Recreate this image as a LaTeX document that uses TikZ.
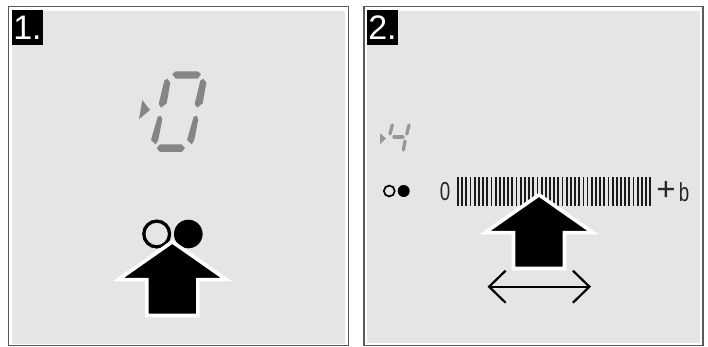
\documentclass[tikz,border=0pt]{standalone}
\usepackage{fontspec}
\setmainfont{Liberation Sans}
\usetikzlibrary{arrows.meta}
\definecolor{panelgrey}{RGB}{229,229,229}
\definecolor{framegrey}{RGB}{90,90,90}
\definecolor{seggrey}{RGB}{133,133,133}
\tikzset{
    frame/.style={draw=framegrey, line width=1.6pt, fill=white},
    panel/.style={fill=panelgrey},
    badge/.style={fill=black, text=white, inner sep=0pt, minimum width=31pt, minimum height=34.5pt, font=\fontsize{34pt}{34pt}\selectfont},
    seg/.style={fill=seggrey},
    thinseg/.style={draw=seggrey!85!white, line width=3.3pt, line cap=round},
    tick/.style={line width=1.8pt, black!90},
    scalelabel/.style={inner sep=0pt, xscale=0.72, font=\fontsize{26pt}{26pt}\selectfont, text=black!85},
    blockarrow/.pic={
        \draw[fill=black, draw=white, line width=3.6pt, miter limit=10]
            (0,-2.5) -- (54,35.3) -- (25.5,35.3) -- (25.5,71.2) -- (-25.5,71.2)
            -- (-25.5,35.3) -- (-54,35.3) -- cycle;
    }
}
\begin{document}
\begin{tikzpicture}[x=1pt, y=-1pt, >=Stealth]
    \useasboundingbox (0,0) rectangle (708,347);

    % Panels
    \draw[frame] (8.5,6.5) rectangle (348.5,345.5);
    \fill[panel] (12,11) rectangle (345,344);
    \draw[frame] (364,6.5) rectangle (703,345.5);
    \fill[panel] (367,11) rectangle (699.5,343);
    \node[badge] (badgeone) at (27.5,27.5) {1.};
    \node[badge] (badgetwo) at (382.5,27.5) {2.};

    % Digit 0
    \fill[seg] (139,119.3) -- (142.3,100) -- (150,110) -- cycle;
    \fill[seg] (172.3,74.3) -- (175.7,71.3) -- (197.7,71.3) -- (201,74.3) -- (197.7,78.7) -- (175.7,78.7) -- cycle;
    \foreach \dx in {0,36} {
        \fill[seg, xshift=\dx] (164.3,80.7) -- (167.3,78.7) -- (170.3,82.7) -- (166.7,103.3) -- (161,107.7) -- (158.7,104) -- cycle;
        \fill[seg, xshift=\dx] (157.7,116.7) -- (160.7,115.7) -- (162.3,119.3) -- (158.3,140) -- (155.7,144.3) -- (151,140) -- cycle;
    }
    \fill[seg] (156.7,148.3) -- (160,144.3) -- (181.7,144.3) -- (185,148.3) -- (181.7,152) -- (160,152) -- cycle;

    % Digit 4
    \fill[seggrey!85!white] (380,144.3) -- (380,133.3) -- (386,138.3) -- cycle;
    \draw[thinseg] (392.3,125) -- (390,134);
    \draw[thinseg] (409,125) -- (406.8,134);
    \draw[thinseg] (394,137) -- (403,137);
    \draw[thinseg] (405,141) -- (403.4,150);

    % Circles
    \node[circle, draw=black, line width=3.3pt, minimum size=25.8pt, inner sep=0pt] (openbig) at (156.7,234) {};
    \node[circle, fill=black, minimum size=28.6pt, inner sep=0pt] (fullbig) at (188.3,234) {};
    \node[circle, draw=black, line width=1.7pt, minimum size=10.9pt, inner sep=0pt] (opensmall) at (389.3,191) {};
    \node[circle, fill=black, minimum size=12pt, inner sep=0pt] (fullsmall) at (403.7,191) {};

    % Scale
    \foreach \i in {0,...,46} {
        \draw[tick] (458+4.18*\i,177.3) -- (458+4.18*\i,205.7);
    }
    \node[scalelabel] (zero) at (445,192) {0};
    \node[scalelabel, xscale=1.39, font=\fontsize{33pt}{33pt}\selectfont] (plus) at (666,191) {+};
    \node[scalelabel] (bee) at (684,192) {b};

    % Arrows
    \pic at (172.3,244.3) {blockarrow};
    \pic at (539,197.3) {blockarrow};
    \coordinate (leftend) at (487.5,286.7);
    \coordinate (rightend) at (591,286.7);
    \draw[{Straight Barb[length=16.5pt,width=32pt]}-{Straight Barb[length=16.5pt,width=32pt]}, line width=2.2pt] (leftend) -- (rightend);
\end{tikzpicture}
\end{document}
